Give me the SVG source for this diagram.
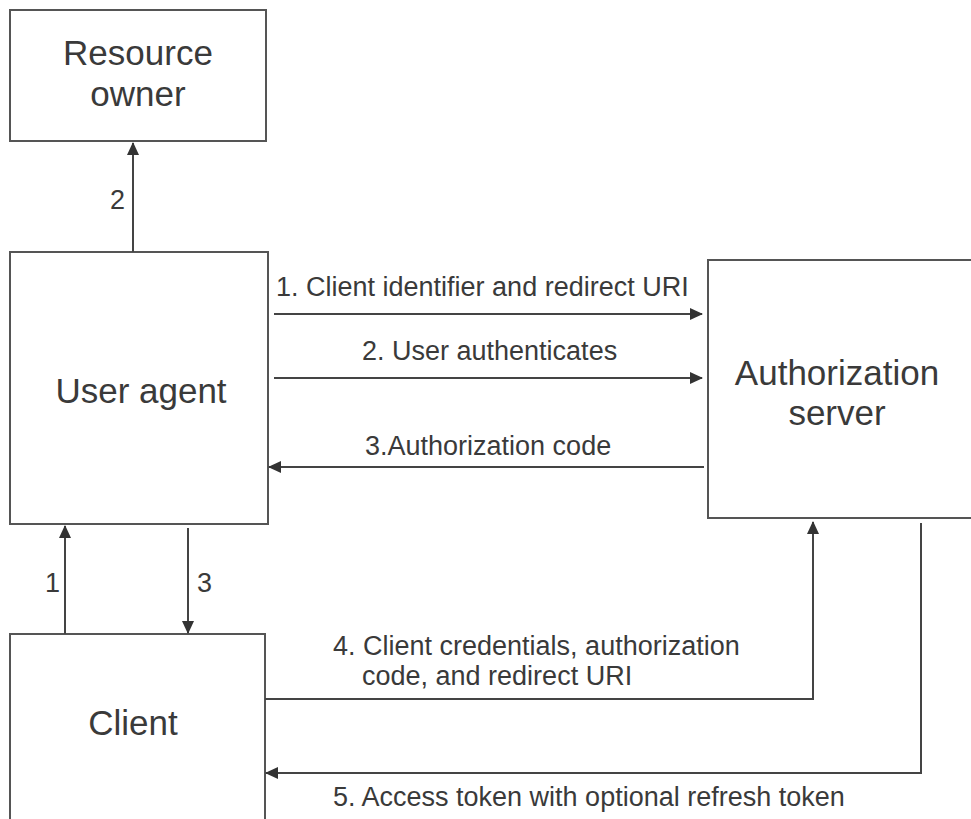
<svg xmlns="http://www.w3.org/2000/svg" width="971" height="819" viewBox="0 0 971 819">
<defs>
<marker id="ah" markerUnits="userSpaceOnUse" markerWidth="14" markerHeight="12" refX="12" refY="6" orient="auto">
<path d="M0,0 L13,6 L0,12 Z" fill="#333"/>
</marker>
<style>
.box{fill:#fff;stroke:#555;stroke-width:2}
.node{font-family:"Liberation Sans",Arial,sans-serif;font-size:35px;fill:#3a3a3a;text-anchor:middle}
.lbl{font-family:"Liberation Sans",Arial,sans-serif;font-size:27px;fill:#3a3a3a}
.c{fill:none;stroke:#444;stroke-width:2}
</style>
</defs>
<rect width="971" height="819" fill="#fff"/>
<g id="resource-owner">
<rect class="box" x="10" y="10" width="256" height="131"/>
<text class="node" x="138" y="65">Resource</text>
<text class="node" x="138" y="106">owner</text>
</g>
<g id="user-agent">
<rect class="box" x="10" y="252" width="258" height="272"/>
<text class="node" x="141" y="403">User agent</text>
</g>
<g id="authorization-server">
<rect class="box" x="708" y="260" width="275" height="258"/>
<text class="node" x="837" y="385">Authorization</text>
<text class="node" x="837" y="425">server</text>
</g>
<g id="client">
<rect class="box" x="10" y="634" width="255" height="200"/>
<text class="node" x="133" y="735">Client</text>
</g>
<g id="connectors">
<line class="c" x1="133" y1="252" x2="133" y2="143" marker-end="url(#ah)"/>
<text class="lbl" x="110" y="209">2</text>
<line class="c" x1="274" y1="314" x2="702" y2="314" marker-end="url(#ah)"/>
<text class="lbl" x="276" y="296">1. Client identifier and redirect URI</text>
<line class="c" x1="274" y1="378" x2="702" y2="378" marker-end="url(#ah)"/>
<text class="lbl" x="362" y="360">2. User authenticates</text>
<line class="c" x1="704" y1="467" x2="269" y2="467" marker-end="url(#ah)"/>
<text class="lbl" x="365" y="455">3.Authorization code</text>
<line class="c" x1="65" y1="634" x2="65" y2="526" marker-end="url(#ah)"/>
<text class="lbl" x="45" y="592">1</text>
<line class="c" x1="188" y1="528" x2="188" y2="633" marker-end="url(#ah)"/>
<text class="lbl" x="197" y="592">3</text>
<polyline class="c" points="265,699 813,699 813,522" marker-end="url(#ah)"/>
<text class="lbl" x="333" y="655">4. Client credentials, authorization</text>
<text class="lbl" x="362" y="685">code, and redirect URI</text>
<polyline class="c" points="921,523 921,773 266,773" marker-end="url(#ah)"/>
<text class="lbl" x="333" y="806">5. Access token with optional refresh token</text>
</g>
</svg>
